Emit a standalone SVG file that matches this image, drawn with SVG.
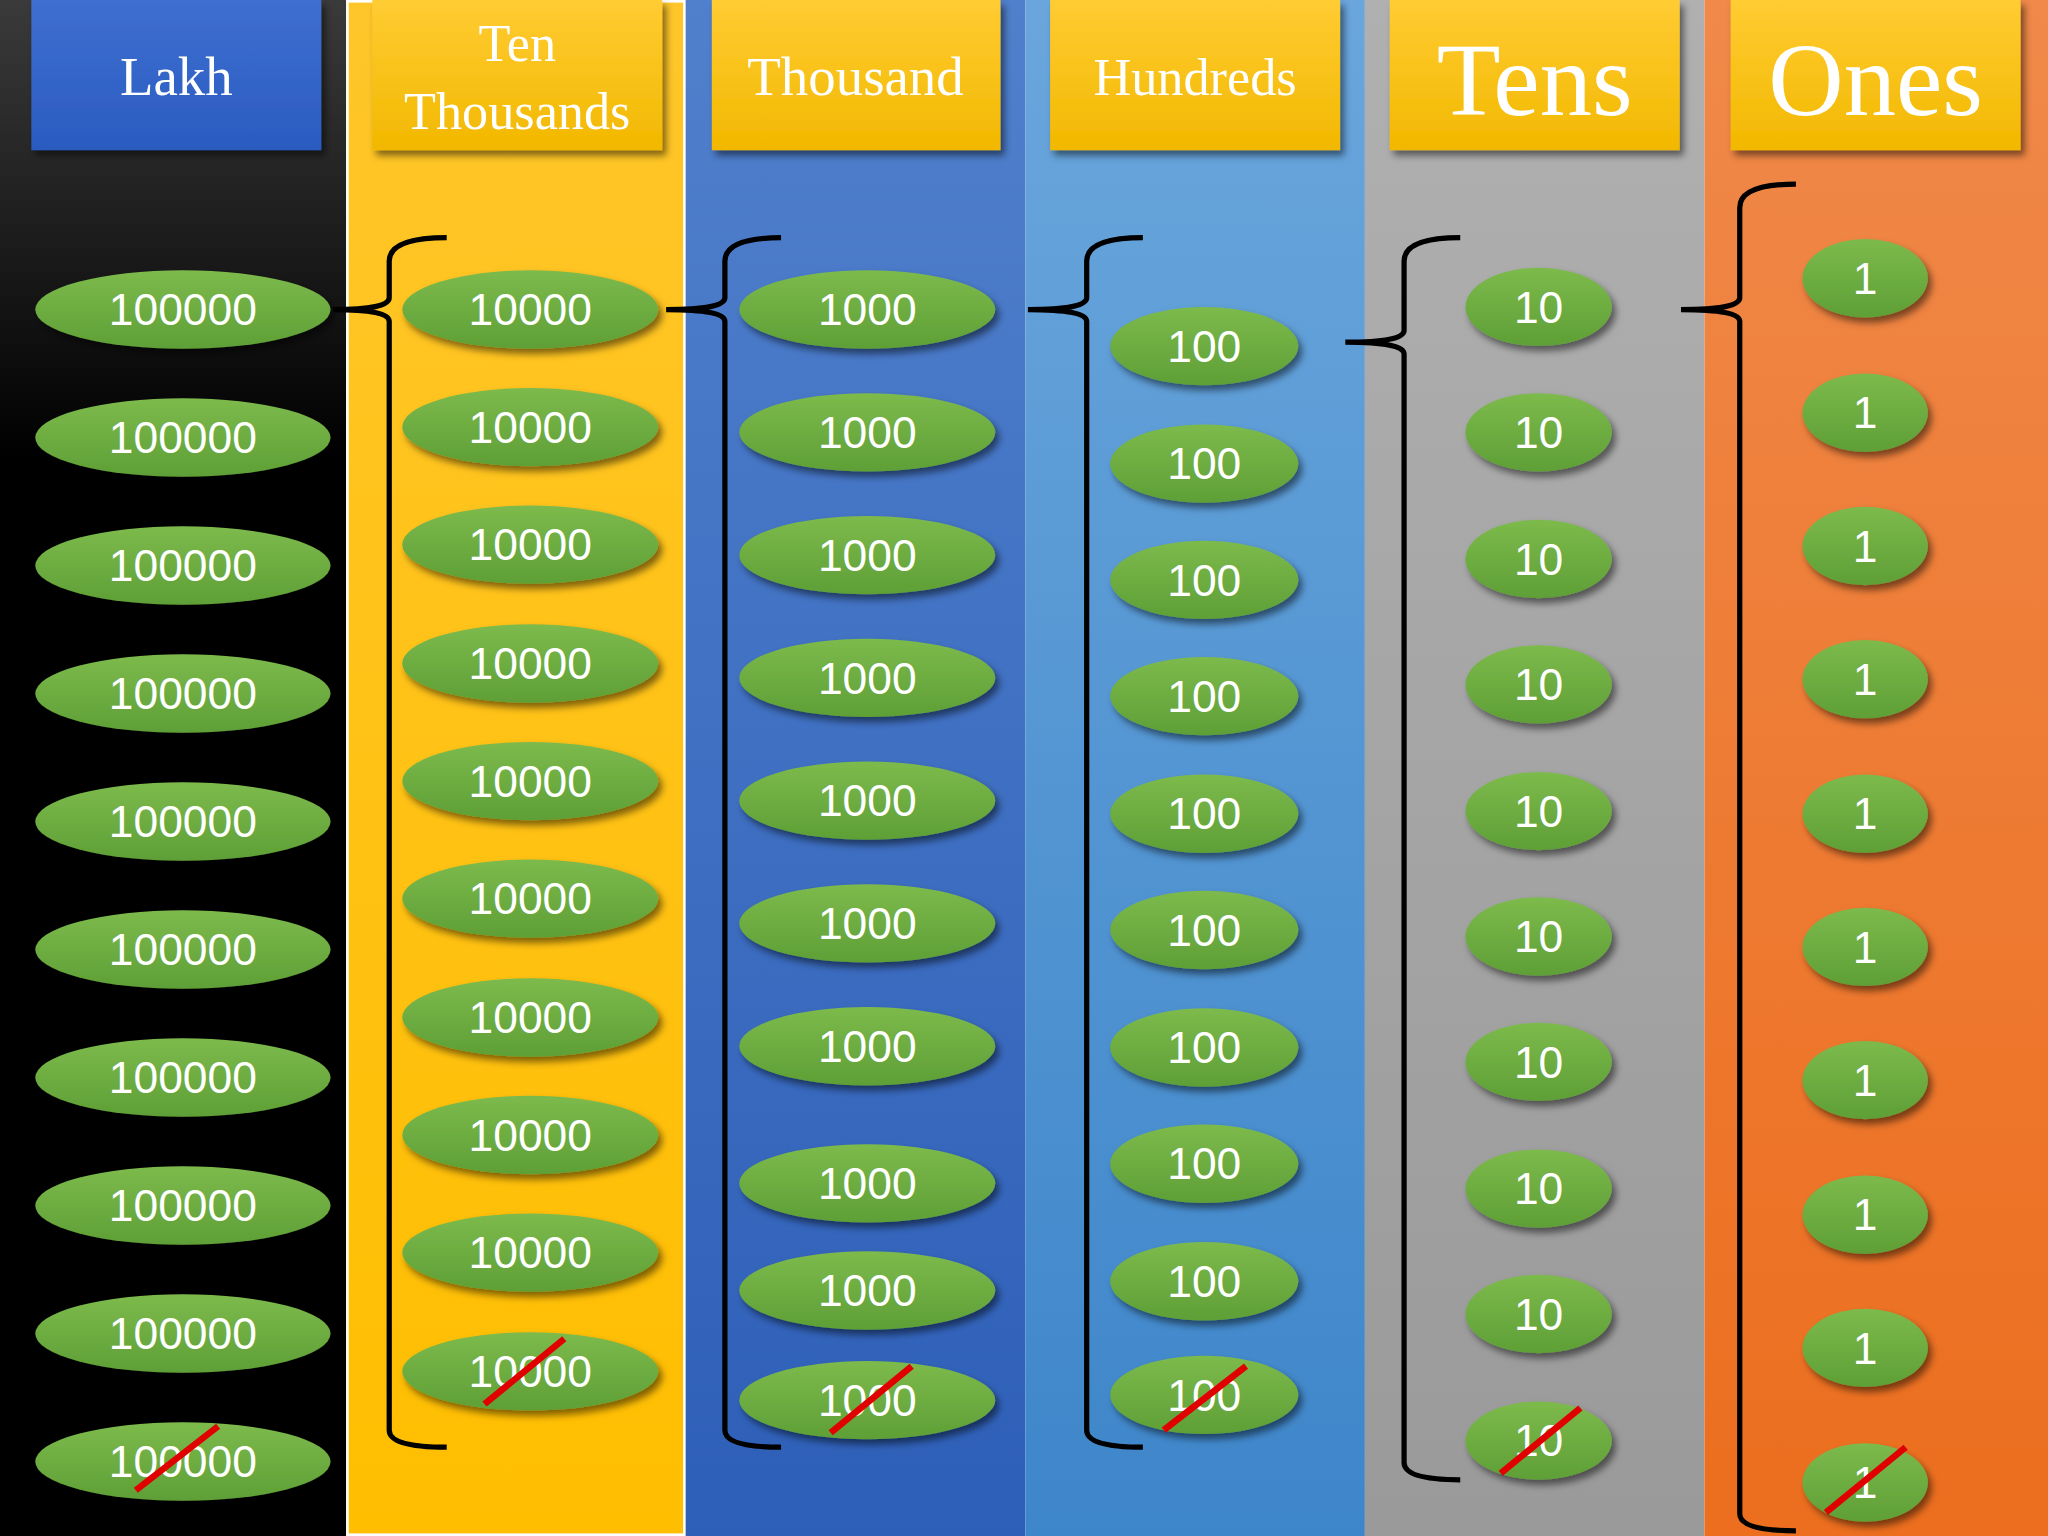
<svg xmlns="http://www.w3.org/2000/svg" width="2048" height="1536" viewBox="0 0 2048 1536">
<defs>
<linearGradient id="gB" x1="0" y1="0" x2="0" y2="1"><stop offset="0" stop-color="#3a3a3a"/><stop offset="0.3" stop-color="#000"/></linearGradient>
<linearGradient id="gY" x1="0" y1="0" x2="0" y2="1"><stop offset="0" stop-color="#FFC62A"/><stop offset="1" stop-color="#FFBE00"/></linearGradient>
<linearGradient id="gT" x1="0" y1="0" x2="0" y2="1"><stop offset="0" stop-color="#5080CC"/><stop offset="1" stop-color="#2E5FB8"/></linearGradient>
<linearGradient id="gH" x1="0" y1="0" x2="0" y2="1"><stop offset="0" stop-color="#6AA6DC"/><stop offset="1" stop-color="#3E86CA"/></linearGradient>
<linearGradient id="gG" x1="0" y1="0" x2="0" y2="1"><stop offset="0" stop-color="#B0B0B0"/><stop offset="1" stop-color="#9A9A9A"/></linearGradient>
<linearGradient id="gO" x1="0" y1="0" x2="0" y2="1"><stop offset="0" stop-color="#F0894A"/><stop offset="1" stop-color="#EC6E1E"/></linearGradient>
<linearGradient id="hB" x1="0" y1="0" x2="0" y2="1"><stop offset="0" stop-color="#3E6FD0"/><stop offset="1" stop-color="#2A5BC0"/></linearGradient>
<linearGradient id="hY" x1="0" y1="0" x2="0" y2="1"><stop offset="0" stop-color="#FFCC33"/><stop offset="1" stop-color="#F2B800"/></linearGradient>
<linearGradient id="gE" x1="0" y1="0" x2="0" y2="1"><stop offset="0" stop-color="#7DBA4C"/><stop offset="1" stop-color="#5E9F36"/></linearGradient>
<filter id="sh" x="-20%" y="-30%" width="150%" height="180%"><feDropShadow dx="3" dy="4" stdDeviation="3" flood-color="#000" flood-opacity="0.5"/></filter>
</defs>
<style>
.e{fill:url(#gE);filter:url(#sh)}
.n{font-family:"Liberation Sans",Arial,sans-serif;font-size:34px;fill:#fff;text-anchor:middle}
.h{font-family:"Liberation Serif","Times New Roman",serif;fill:#fff;text-anchor:middle}
.br{fill:none;stroke:#000;stroke-width:4}
.x{stroke:#E00000;stroke-width:5}
</style>
<g transform="scale(1.30612)">
<g id="columns">
<rect x="0" y="0" width="265" height="1176" fill="url(#gB)"/>
<rect x="265" y="0" width="260" height="1176" fill="url(#gY)"/>
<rect x="266" y="1" width="258" height="1174" fill="none" stroke="#fff" stroke-width="2"/>
<rect x="525" y="0" width="260" height="1176" fill="url(#gT)"/>
<rect x="785" y="0" width="260" height="1176" fill="url(#gH)"/>
<rect x="1045" y="0" width="260" height="1176" fill="url(#gG)"/>
<rect x="1305" y="0" width="263" height="1176" fill="url(#gO)"/>
</g>
<g id="headers" filter="url(#sh)">
<rect x="24" y="0" width="222" height="115" fill="url(#hB)"/>
<rect x="285" y="0" width="222" height="115" fill="url(#hY)"/>
<rect x="545" y="0" width="221" height="115" fill="url(#hY)"/>
<rect x="804" y="0" width="222" height="115" fill="url(#hY)"/>
<rect x="1064" y="0" width="222" height="115" fill="url(#hY)"/>
<rect x="1325" y="0" width="222" height="115" fill="url(#hY)"/>
</g>
<g id="header-text">
<text class="h" x="135" y="73" font-size="42">Lakh</text>
<text class="h" x="396" y="47" font-size="40">Ten</text>
<text class="h" x="396" y="99" font-size="40">Thousands</text>
<text class="h" x="655" y="73" font-size="42">Thousand</text>
<text class="h" x="915" y="73" font-size="40">Hundreds</text>
<text class="h" x="1175" y="88" font-size="80">Tens</text>
<text class="h" x="1436" y="88" font-size="80">Ones</text>
</g>
<g id="connectors">
<path class="br" d="M342,182 Q298,182 298,200 L298,228 Q298,237 255,237 Q298,237 298,246 L298,1095 Q298,1108 342,1108"/>
<path class="br" d="M598,182 Q555,182 555,200 L555,228 Q555,237 510,237 Q555,237 555,246 L555,1095 Q555,1108 598,1108"/>
<path class="br" d="M875,182 Q832,182 832,200 L832,228 Q832,237 787,237 Q832,237 832,246 L832,1095 Q832,1108 875,1108"/>
<path class="br" d="M1118,182 Q1075,182 1075,200 L1075,253 Q1075,262 1030,262 Q1075,262 1075,271 L1075,1120 Q1075,1133 1118,1133"/>
<path class="br" d="M1375,141 Q1332,141 1332,159 L1332,228 Q1332,237 1287,237 Q1332,237 1332,246 L1332,1159 Q1332,1172 1375,1172"/>
</g>
<g id="lakh">
<ellipse class="e" cx="140" cy="237" rx="113" ry="30"/><text class="n" x="140" y="249">100000</text>
<ellipse class="e" cx="140" cy="335" rx="113" ry="30"/><text class="n" x="140" y="347">100000</text>
<ellipse class="e" cx="140" cy="433" rx="113" ry="30"/><text class="n" x="140" y="445">100000</text>
<ellipse class="e" cx="140" cy="531" rx="113" ry="30"/><text class="n" x="140" y="543">100000</text>
<ellipse class="e" cx="140" cy="629" rx="113" ry="30"/><text class="n" x="140" y="641">100000</text>
<ellipse class="e" cx="140" cy="727" rx="113" ry="30"/><text class="n" x="140" y="739">100000</text>
<ellipse class="e" cx="140" cy="825" rx="113" ry="30"/><text class="n" x="140" y="837">100000</text>
<ellipse class="e" cx="140" cy="923" rx="113" ry="30"/><text class="n" x="140" y="935">100000</text>
<ellipse class="e" cx="140" cy="1021" rx="113" ry="30"/><text class="n" x="140" y="1033">100000</text>
<ellipse class="e" cx="140" cy="1119" rx="113" ry="30"/><text class="n" x="140" y="1131">100000</text>
<line class="x" x1="104" y1="1141" x2="167" y2="1092"/>
</g>
<g id="tenthousands">
<ellipse class="e" cx="406" cy="237" rx="98" ry="30"/><text class="n" x="406" y="249">10000</text>
<ellipse class="e" cx="406" cy="327" rx="98" ry="30"/><text class="n" x="406" y="339">10000</text>
<ellipse class="e" cx="406" cy="417" rx="98" ry="30"/><text class="n" x="406" y="429">10000</text>
<ellipse class="e" cx="406" cy="508" rx="98" ry="30"/><text class="n" x="406" y="520">10000</text>
<ellipse class="e" cx="406" cy="598" rx="98" ry="30"/><text class="n" x="406" y="610">10000</text>
<ellipse class="e" cx="406" cy="688" rx="98" ry="30"/><text class="n" x="406" y="700">10000</text>
<ellipse class="e" cx="406" cy="779" rx="98" ry="30"/><text class="n" x="406" y="791">10000</text>
<ellipse class="e" cx="406" cy="869" rx="98" ry="30"/><text class="n" x="406" y="881">10000</text>
<ellipse class="e" cx="406" cy="959" rx="98" ry="30"/><text class="n" x="406" y="971">10000</text>
<ellipse class="e" cx="406" cy="1050" rx="98" ry="30"/><text class="n" x="406" y="1062">10000</text>
<line class="x" x1="371" y1="1075" x2="432" y2="1025"/>
</g>
<g id="thousand">
<ellipse class="e" cx="664" cy="237" rx="98" ry="30"/><text class="n" x="664" y="249">1000</text>
<ellipse class="e" cx="664" cy="331" rx="98" ry="30"/><text class="n" x="664" y="343">1000</text>
<ellipse class="e" cx="664" cy="425" rx="98" ry="30"/><text class="n" x="664" y="437">1000</text>
<ellipse class="e" cx="664" cy="519" rx="98" ry="30"/><text class="n" x="664" y="531">1000</text>
<ellipse class="e" cx="664" cy="613" rx="98" ry="30"/><text class="n" x="664" y="625">1000</text>
<ellipse class="e" cx="664" cy="707" rx="98" ry="30"/><text class="n" x="664" y="719">1000</text>
<ellipse class="e" cx="664" cy="801" rx="98" ry="30"/><text class="n" x="664" y="813">1000</text>
<ellipse class="e" cx="664" cy="906" rx="98" ry="30"/><text class="n" x="664" y="918">1000</text>
<ellipse class="e" cx="664" cy="988" rx="98" ry="30"/><text class="n" x="664" y="1000">1000</text>
<ellipse class="e" cx="664" cy="1072" rx="98" ry="30"/><text class="n" x="664" y="1084">1000</text>
<line class="x" x1="636" y1="1097" x2="698" y2="1046"/>
</g>
<g id="hundreds">
<ellipse class="e" cx="922" cy="265" rx="72" ry="30"/><text class="n" x="922" y="277">100</text>
<ellipse class="e" cx="922" cy="355" rx="72" ry="30"/><text class="n" x="922" y="367">100</text>
<ellipse class="e" cx="922" cy="444" rx="72" ry="30"/><text class="n" x="922" y="456">100</text>
<ellipse class="e" cx="922" cy="533" rx="72" ry="30"/><text class="n" x="922" y="545">100</text>
<ellipse class="e" cx="922" cy="623" rx="72" ry="30"/><text class="n" x="922" y="635">100</text>
<ellipse class="e" cx="922" cy="712" rx="72" ry="30"/><text class="n" x="922" y="724">100</text>
<ellipse class="e" cx="922" cy="802" rx="72" ry="30"/><text class="n" x="922" y="814">100</text>
<ellipse class="e" cx="922" cy="891" rx="72" ry="30"/><text class="n" x="922" y="903">100</text>
<ellipse class="e" cx="922" cy="981" rx="72" ry="30"/><text class="n" x="922" y="993">100</text>
<ellipse class="e" cx="922" cy="1068" rx="72" ry="30"/><text class="n" x="922" y="1080">100</text>
<line class="x" x1="891" y1="1095" x2="954" y2="1046"/>
</g>
<g id="tens">
<ellipse class="e" cx="1178" cy="235" rx="56" ry="30"/><text class="n" x="1178" y="247">10</text>
<ellipse class="e" cx="1178" cy="331" rx="56" ry="30"/><text class="n" x="1178" y="343">10</text>
<ellipse class="e" cx="1178" cy="428" rx="56" ry="30"/><text class="n" x="1178" y="440">10</text>
<ellipse class="e" cx="1178" cy="524" rx="56" ry="30"/><text class="n" x="1178" y="536">10</text>
<ellipse class="e" cx="1178" cy="621" rx="56" ry="30"/><text class="n" x="1178" y="633">10</text>
<ellipse class="e" cx="1178" cy="717" rx="56" ry="30"/><text class="n" x="1178" y="729">10</text>
<ellipse class="e" cx="1178" cy="813" rx="56" ry="30"/><text class="n" x="1178" y="825">10</text>
<ellipse class="e" cx="1178" cy="910" rx="56" ry="30"/><text class="n" x="1178" y="922">10</text>
<ellipse class="e" cx="1178" cy="1006" rx="56" ry="30"/><text class="n" x="1178" y="1018">10</text>
<ellipse class="e" cx="1178" cy="1103" rx="56" ry="30"/><text class="n" x="1178" y="1115">10</text>
<line class="x" x1="1149" y1="1128" x2="1210" y2="1078"/>
</g>
<g id="ones">
<ellipse class="e" cx="1428" cy="213" rx="48" ry="30"/><text class="n" x="1428" y="225">1</text>
<ellipse class="e" cx="1428" cy="316" rx="48" ry="30"/><text class="n" x="1428" y="328">1</text>
<ellipse class="e" cx="1428" cy="418" rx="48" ry="30"/><text class="n" x="1428" y="430">1</text>
<ellipse class="e" cx="1428" cy="520" rx="48" ry="30"/><text class="n" x="1428" y="532">1</text>
<ellipse class="e" cx="1428" cy="623" rx="48" ry="30"/><text class="n" x="1428" y="635">1</text>
<ellipse class="e" cx="1428" cy="725" rx="48" ry="30"/><text class="n" x="1428" y="737">1</text>
<ellipse class="e" cx="1428" cy="827" rx="48" ry="30"/><text class="n" x="1428" y="839">1</text>
<ellipse class="e" cx="1428" cy="930" rx="48" ry="30"/><text class="n" x="1428" y="942">1</text>
<ellipse class="e" cx="1428" cy="1032" rx="48" ry="30"/><text class="n" x="1428" y="1044">1</text>
<ellipse class="e" cx="1428" cy="1135" rx="48" ry="30"/><text class="n" x="1428" y="1147">1</text>
<line class="x" x1="1398" y1="1158" x2="1459" y2="1108"/>
</g>
</g>
</svg>
